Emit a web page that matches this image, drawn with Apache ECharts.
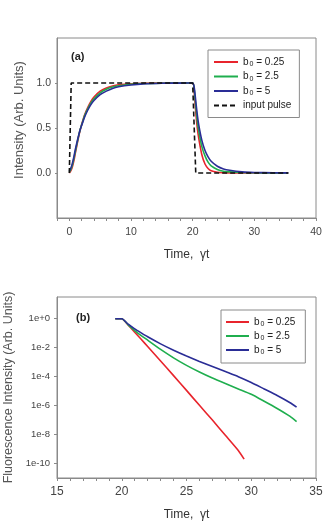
<!DOCTYPE html>
<html>
<head>
<meta charset="utf-8">
<script src="https://cdn.jsdelivr.net/npm/echarts@6/dist/echarts.min.js"></script>
<style>
html,body{margin:0;padding:0;background:#fff;}
#chart{width:331px;height:524px;}
</style>
</head>
<body>
<div id="chart"></div>
<script>
// ---------- Panel (a): intensity vs time ----------
const timeA = [0,0.25,0.5,0.75,1,1.25,1.5,1.75,2,2.5,3,3.5,4,5,6,7,8,10,12,15,18,20,20.25,20.5,20.75,21,21.5,22,22.5,23,24,25,26,28,30,33,35.5];
const intensityRed = [0,0.025,0.07,0.14,0.23,0.315,0.4,0.475,0.54,0.65,0.73,0.795,0.845,0.91,0.945,0.967,0.98,0.992,0.997,0.999,1,1,
  0.9,0.68,0.5,0.38,0.2,0.1,0.05,0.025,0.008,0.003,0.001,0,0,0,0];
const intensityGreen = [0.01,0.04,0.09,0.165,0.25,0.33,0.41,0.48,0.535,0.64,0.715,0.78,0.825,0.89,0.93,0.955,0.97,0.986,0.994,0.998,1,1,
  0.93,0.75,0.58,0.46,0.29,0.19,0.12,0.08,0.04,0.02,0.012,0.005,0.002,0.001,0];
const intensityBlue = [0.02,0.055,0.11,0.185,0.27,0.345,0.415,0.48,0.53,0.625,0.7,0.76,0.805,0.87,0.91,0.94,0.958,0.978,0.99,0.997,0.999,1,
  0.95,0.8,0.65,0.53,0.36,0.25,0.18,0.13,0.075,0.045,0.03,0.013,0.006,0.002,0.001];
const pulseTime = [0,0.3,20,20.5,35.5];
const pulseValue = [0,1,1,0,0];

const xTicksA = [-2,0,2,4,6,8,10,12,14,16,18,20,22,24,26,28,30,32,34,36,38,40];
const xLabelsA = [0,10,20,30,40];
const yLabelsA = [0,0.5,1];

// ---------- Panel (b): fluorescence (log10 of intensity) vs time ----------
const timeBRed = [19.5,20,20.5,21,21.5,22,23,24,25,26,27,28,29,29.45];
const log10Red = [0,0,-0.45,-0.93,-1.42,-1.92,-2.92,-3.93,-4.95,-5.98,-7.0,-8.05,-9.1,-9.7];
const timeB = [19.5,20,20.5,21,21.5,22,23,24,25,26,27,28,29,30,31,32,33,33.5];
const log10Green = [0,0,-0.42,-0.82,-1.17,-1.48,-2.12,-2.7,-3.22,-3.68,-4.1,-4.48,-4.85,-5.22,-5.7,-6.2,-6.75,-7.1];
const log10Blue = [0,0,-0.38,-0.7,-0.98,-1.25,-1.74,-2.18,-2.58,-2.95,-3.3,-3.65,-4.0,-4.4,-4.85,-5.3,-5.8,-6.1];
const yLabelsB = [0,-2,-4,-6,-8,-10];

const legendLabels = {
  'a1': '{b|b}{s|0}{t| = 0.25}', 'a2': '{b|b}{s|0}{t| = 2.5}', 'a3': '{b|b}{s|0}{t| = 5}', 'a4': '{t|input pulse}',
  'b1': '{b|b}{s|0}{t| = 0.25}', 'b2': '{b|b}{s|0}{t| = 2.5}', 'b3': '{b|b}{s|0}{t| = 5}'
};

const RED = '#e8242c', GREEN = '#1fae4e', BLUE = '#2a2d96', AXIS = '#8a8a8a', TXT = '#444';
const zip = (xs, ys) => xs.map((x, i) => [x, ys[i]]);

const richLegend = {
  b: {fontSize: 10, color: '#222', fontFamily: 'Liberation Sans'},
  s: {fontSize: 7, color: '#222', fontFamily: 'Liberation Sans', padding: [5, 0, 0, 1]},
  t: {fontSize: 10, color: '#222', fontFamily: 'Liberation Sans'}
};

function curve(name, xi, yi, data, color, extra) {
  return Object.assign({
    name, type: 'line', xAxisIndex: xi, yAxisIndex: yi, data,
    showSymbol: false, symbol: 'none', smooth: 0.25,
    lineStyle: {color, width: 1.6}, itemStyle: {color}, z: 3
  }, extra || {});
}

const legendBase = {
  orient: 'vertical', backgroundColor: '#fff', borderColor: AXIS, borderWidth: 1, borderRadius: 0,
  itemStyle: {opacity: 0}, formatter: n => legendLabels[n], textStyle: {rich: richLegend}
};

const chart = echarts.init(document.getElementById('chart'), null, {renderer: 'canvas'});
chart.setOption({
  animation: false,
  backgroundColor: '#fff',
  textStyle: {fontFamily: 'Liberation Sans'},
  grid: [
    {left: 57, top: 38, width: 259, height: 180, show: true, borderColor: AXIS, borderWidth: 1,
      containLabel: false, outerBoundsMode: 'none'},
    {left: 57, top: 297, width: 259, height: 181, show: true, borderColor: AXIS, borderWidth: 1,
      containLabel: false, outerBoundsMode: 'none'}
  ],
  xAxis: [
    {type: 'value', gridIndex: 0, min: -2, max: 40,
      axisLine: {show: true, onZero: false, lineStyle: {color: AXIS}},
      axisTick: {show: true, length: 3, inside: false, customValues: xTicksA, lineStyle: {color: AXIS}},
      axisLabel: {customValues: xLabelsA, fontSize: 10.5, color: TXT, margin: 9},
      splitLine: {show: false},
      name: 'Time,  γt', nameLocation: 'middle', nameGap: 31,
      nameTextStyle: {fontSize: 12, color: '#333'}},
    {type: 'value', gridIndex: 1, min: 15, max: 35, interval: 5,
      axisLine: {show: true, onZero: false, lineStyle: {color: AXIS}},
      axisTick: {show: true, length: 3, inside: false, lineStyle: {color: AXIS}},
      minorTick: {show: true, splitNumber: 5, length: 3, lineStyle: {color: AXIS}},
      axisLabel: {fontSize: 12, color: TXT, margin: 8},
      splitLine: {show: false},
      name: 'Time,  γt', nameLocation: 'middle', nameGap: 31,
      nameTextStyle: {fontSize: 12, color: '#333'}}
  ],
  yAxis: [
    {type: 'value', gridIndex: 0, min: -0.5, max: 1.5,
      axisLine: {show: true, onZero: false, lineStyle: {color: AXIS}},
      axisTick: {show: true, length: 2, customValues: yLabelsA, lineStyle: {color: AXIS}},
      axisLabel: {customValues: yLabelsA, fontSize: 10.5, color: TXT, margin: 6,
        formatter: v => v.toFixed(1)},
      splitLine: {show: false},
      name: 'Intensity (Arb. Units)', nameLocation: 'middle', nameGap: 24,
      nameTextStyle: {fontSize: 13, color: '#555', padding: [0, 0, 0, 16]}},
    {type: 'value', gridIndex: 1, min: -11, max: 1.5,
      axisLine: {show: true, onZero: false, lineStyle: {color: AXIS}},
      axisTick: {show: true, length: 3, customValues: yLabelsB, lineStyle: {color: AXIS}},
      axisLabel: {customValues: yLabelsB, fontSize: 9.5, color: TXT, margin: 7,
        formatter: v => (v === 0 ? '1e+0' : '1e' + v)},
      splitLine: {show: false},
      name: 'Fluorescence Intensity (Arb. Units)', nameLocation: 'middle', nameGap: 35,
      nameTextStyle: {fontSize: 12.5, color: '#555'}}
  ],
  legend: [
    Object.assign({}, legendBase, {data: ['a1', 'a2', 'a3', 'a4'], left: 208, top: 50,
      padding: [7, 8, 7, 5], itemWidth: 24, itemHeight: 12, itemGap: 3.5}),
    Object.assign({}, legendBase, {data: ['b1', 'b2', 'b3'], left: 221, top: 310,
      padding: [7, 10, 7, 4], itemWidth: 23, itemHeight: 12, itemGap: 3})
  ],
  graphic: [
    {type: 'text', left: 71, top: 51, style: {text: '(a)', font: 'bold 11px Liberation Sans', fill: '#222'}},
    {type: 'text', left: 76, top: 312, style: {text: '(b)', font: 'bold 11px Liberation Sans', fill: '#222'}}
  ],
  series: [
    curve('a1', 0, 0, zip(timeA, intensityRed), RED),
    curve('a2', 0, 0, zip(timeA, intensityGreen), GREEN),
    curve('a3', 0, 0, zip(timeA, intensityBlue), BLUE),
    curve('a4', 0, 0, zip(pulseTime, pulseValue), '#111',
      {smooth: false, lineStyle: {color: '#111', width: 1.6, type: [5, 3]}, z: 4}),
    curve('b1', 1, 1, zip(timeBRed, log10Red), RED, {smooth: 0.2}),
    curve('b2', 1, 1, zip(timeB, log10Green), GREEN, {smooth: 0.2}),
    curve('b3', 1, 1, zip(timeB, log10Blue), BLUE, {smooth: 0.2})
  ]
});
</script>
</body>
</html>
